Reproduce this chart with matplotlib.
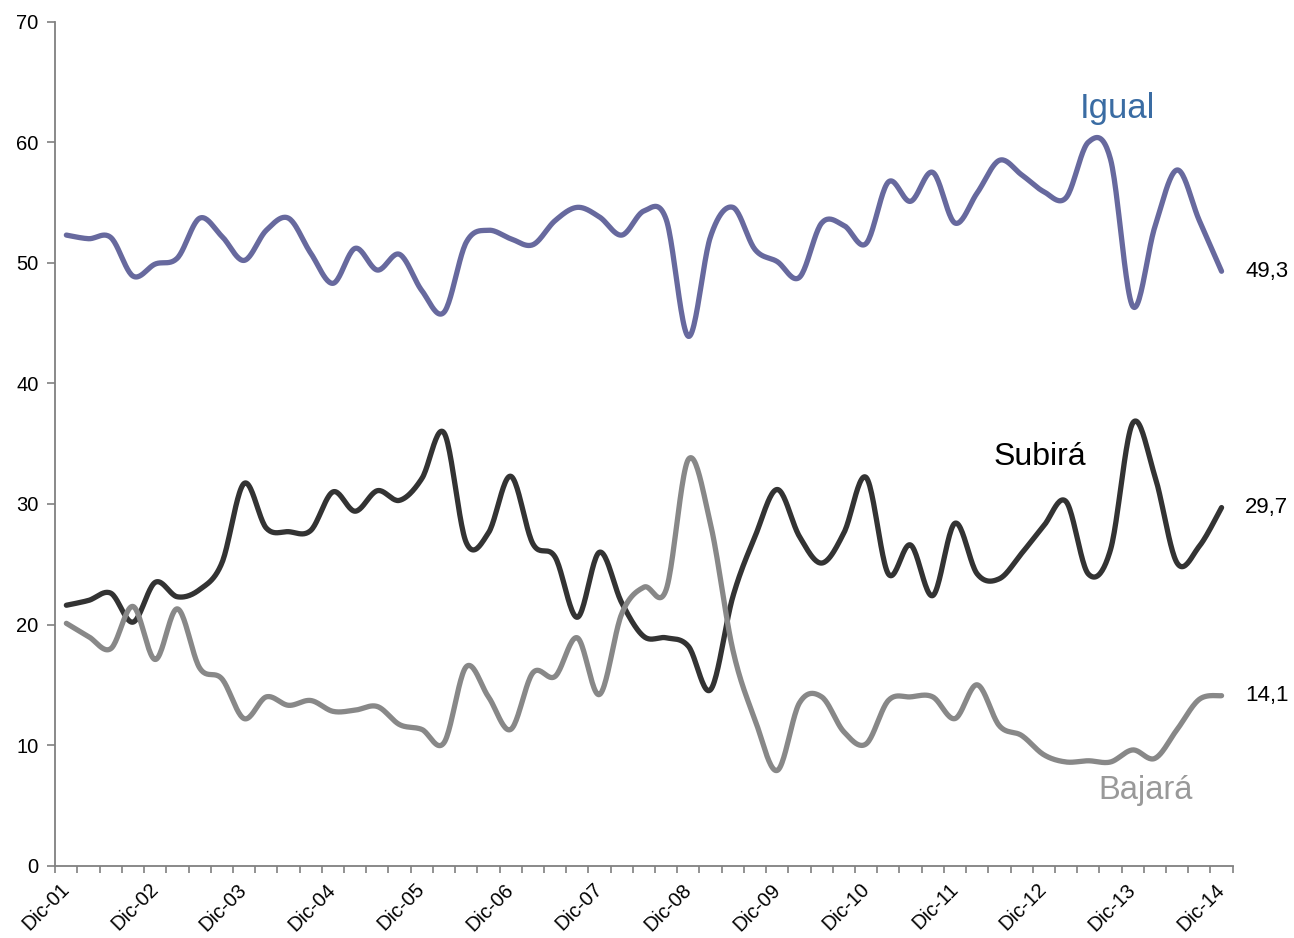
import numpy as np
import matplotlib
matplotlib.use("Agg")
import matplotlib.pyplot as plt

plt.rcParams['font.family'] = ['Liberation Sans', 'DejaVu Sans']

years = ["01", "02", "03", "04", "05", "06", "07", "08", "09", "10", "11", "12", "13", "14"]
tick_labels = ["Dic-" + y for y in years]

igual = [52.3, 52.0, 52.1, 48.9, 49.9, 50.4, 53.7, 52.2, 50.2, 52.7, 53.7, 50.8, 48.3,
         51.2, 49.4, 50.7, 47.7, 45.9, 51.7, 52.7, 52.0, 51.5, 53.5, 54.6, 53.8, 52.3,
         54.3, 53.6, 43.9, 52.2, 54.6, 51.1, 50.1, 48.8, 53.3, 53.1, 51.6, 56.7, 55.1,
         57.5, 53.3, 55.8, 58.5, 57.3, 55.9, 55.4, 60.0, 58.6, 46.4, 53.0, 57.7, 53.5, 49.3]

subira = [21.6, 22.0, 22.6, 20.2, 23.5, 22.3, 22.9, 25.1, 31.7, 28.0, 27.7, 27.8, 31.0,
          29.4, 31.1, 30.3, 32.1, 35.9, 26.8, 27.6, 32.3, 26.7, 25.6, 20.6, 26.0, 21.8,
          19.0, 18.9, 18.2, 14.6, 22.3, 27.3, 31.2, 27.3, 25.1, 27.6, 32.2, 24.2, 26.6,
          22.4, 28.4, 24.2, 23.8, 25.9, 28.2, 30.2, 24.2, 26.2, 36.7, 32.3, 25.1, 26.5, 29.7]

bajara = [20.1, 19.0, 18.0, 21.5, 17.1, 21.3, 16.4, 15.5, 12.2, 14.0, 13.3, 13.7, 12.8,
          12.9, 13.2, 11.7, 11.3, 10.2, 16.5, 14.0, 11.3, 16.0, 15.7, 18.9, 14.2, 20.9,
          23.1, 22.9, 33.7, 28.3, 17.9, 12.1, 7.9, 13.5, 14.0, 11.1, 10.1, 13.7, 14.0,
          14.0, 12.2, 15.0, 11.6, 10.8, 9.2, 8.6, 8.7, 8.6, 9.6, 8.9, 11.3, 13.8, 14.1]

series_names = ["Igual", "Subirá", "Bajará"]
end_labels = ["49,3", "29,7", "14,1"]


def smooth(y, n=24):
    y = np.asarray(y, dtype=float)
    x = np.arange(len(y), dtype=float)
    P = np.column_stack([x, y])
    Pp = np.vstack([P[0], P, P[-1]])
    out = []
    t = np.linspace(0, 1, n, endpoint=False)[:, None]
    for i in range(len(P) - 1):
        p0, p1, p2, p3 = Pp[i], Pp[i + 1], Pp[i + 2], Pp[i + 3]
        c1 = p1 + (p2 - p0) / 6.0
        c2 = p2 - (p3 - p1) / 6.0
        seg = ((1 - t) ** 3) * p1 + 3 * ((1 - t) ** 2) * t * c1 + 3 * (1 - t) * t ** 2 * c2 + t ** 3 * p2
        out.append(seg)
    out.append(P[-1][None, :])
    out = np.vstack(out)
    return out[:, 0], out[:, 1]


fig = plt.figure(figsize=(12.94, 9.38), dpi=100)
ax = fig.add_axes([0.0427, 0.0771, 0.9099, 0.8998])

colors = ["#67699E", "#333333", "#888888"]
for data, c in zip([igual, subira, bajara], colors):
    xs, ys = smooth(data)
    ax.plot(xs, ys, color=c, lw=3.8, solid_capstyle='round', solid_joinstyle='round')

n = len(igual)
ax.set_xlim(-0.5, n - 0.5)
ax.set_ylim(0, 70)

# axis styling
for s in ['top', 'right']:
    ax.spines[s].set_visible(False)
for s in ['left', 'bottom']:
    ax.spines[s].set_color('#808080')
    ax.spines[s].set_linewidth(1.3)

ax.set_yticks(np.arange(0, 71, 10))
ax.tick_params(axis='y', direction='out', length=6, width=1.2, color='#808080',
               labelsize=14.5, pad=6)

ax.set_xticks(np.arange(-0.5, n, 1.0))
ax.set_xticklabels([])
ax.tick_params(axis='x', which='major', direction='out', length=5, width=1.2, color='#808080')
ax.set_xticks(np.arange(0, n, 4), minor=True)
ax.set_xticklabels(tick_labels, minor=True, rotation=45, ha='right', va='center',
                   rotation_mode='anchor', fontsize=14.5)
ax.tick_params(axis='x', which='minor', length=0, pad=15)

# end value labels
for data, lab in zip([igual, subira, bajara], end_labels):
    ax.annotate(lab, xy=(n - 1, data[-1]), xytext=(17, 0), textcoords='offset points',
                ha='left', va='center', fontsize=16, color='black', annotation_clip=False)

# series name labels
ax.text(47.3, 62.8, "Igual", fontsize=25, color="#3A6CA3", ha='center', va='center')
ax.text(43.8, 33.9, "Subirá", fontsize=23, color="black", ha='center', va='center')
ax.text(48.6, 6.2, "Bajará", fontsize=23.5, color="#999999", ha='center', va='center')

fig.savefig("out.png", dpi=100)
